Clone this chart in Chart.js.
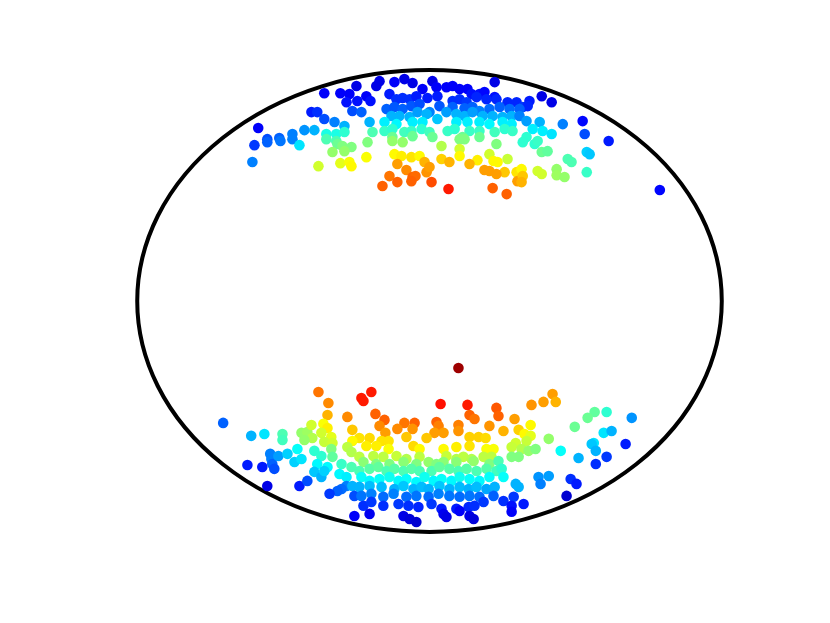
<!DOCTYPE html>
<html>
<head>
<meta charset="utf-8">
<script src="https://cdn.jsdelivr.net/npm/chart.js@4.4.1/dist/chart.umd.min.js"></script>
<style>
  html, body { margin: 0; padding: 0; background: #fff; }
  canvas { display: block; }
</style>
</head>
<body>
<canvas id="chart" width="830" height="623"></canvas>
<script>
// unit circle outline, axis limits like MATLAB's
const ringRadius = 1;
const axisLimit = 1.1;

// upper cluster
const northX = [
  -0.360,-0.305,-0.274,-0.250,-0.284,-0.247,-0.216,-0.202,-0.182,-0.171,
  -0.120,-0.086,-0.058,-0.024,0.010,0.024,0.058,0.079,0.103,0.130,
  0.144,0.171,0.188,0.223,0.223,-0.137,-0.113,-0.092,-0.068,-0.045,
  -0.007,0.027,0.079,0.103,0.127,0.161,0.195,0.229,0.267,0.298,
  0.342,0.384,0.418,0.319,0.336,-0.404,-0.384,-0.360,-0.325,-0.264,
  -0.233,-0.205,-0.586,-0.291,-0.428,-0.394,-0.469,-0.514,-0.555,-0.353,
  -0.319,-0.291,-0.195,-0.147,-0.120,-0.092,-0.062,-0.034,0.000,0.034,
  0.079,0.120,0.147,0.171,0.205,0.240,0.274,0.308,-0.130,-0.103,
  -0.068,-0.041,-0.010,0.027,0.058,0.092,0.120,0.147,0.182,0.216,
  0.250,0.281,-0.154,-0.113,-0.058,-0.024,0.092,0.130,0.171,0.205,
  0.250,0.281,-0.154,-0.127,-0.086,-0.062,-0.027,0.000,0.062,0.086,
  0.137,0.171,0.223,0.257,0.284,-0.127,-0.058,0.010,0.113,0.171,
  0.308,0.332,0.377,0.353,0.387,0.418,0.332,0.456,0.524,0.531,
  0.613,-0.599,-0.555,-0.510,-0.469,-0.445,-0.606,-0.353,-0.319,-0.315,
  -0.298,-0.267,-0.291,-0.332,-0.380,-0.305,-0.274,-0.267,-0.216,-0.212,
  -0.127,-0.092,0.041,0.103,0.120,0.229,0.103,-0.120,-0.096,-0.062,
  -0.034,0.103,0.041,0.068,-0.017,0.205,0.233,0.219,0.267,0.164,
  0.137,-0.110,-0.079,-0.010,0.000,0.188,0.205,0.257,0.229,0.298,
  -0.137,-0.058,-0.048,-0.062,-0.110,0.007,-0.161,0.065,0.216,0.264,
  0.301,0.319,0.360,0.370,0.384,0.404,0.473,0.486,0.538,0.548,
  0.538,0.315,0.319,0.315,0.370,0.384,0.435,0.435,0.462,0.788
];
const northY = [
  0.900,0.900,0.896,0.931,0.861,0.866,0.887,0.866,0.931,0.952,
  0.948,0.961,0.944,0.918,0.952,0.926,0.926,0.931,0.918,0.918,
  0.896,0.896,0.905,0.948,0.883,0.896,0.874,0.879,0.874,0.887,
  0.879,0.887,0.866,0.874,0.861,0.883,0.874,0.874,0.861,0.861,
  0.866,0.887,0.861,0.840,0.844,0.818,0.818,0.788,0.775,0.823,
  0.818,0.775,0.749,0.758,0.740,0.740,0.723,0.706,0.701,0.723,
  0.723,0.732,0.732,0.831,0.840,0.831,0.844,0.853,0.818,0.844,
  0.840,0.835,0.840,0.823,0.831,0.840,0.831,0.831,0.801,0.801,
  0.797,0.818,0.810,0.788,0.818,0.810,0.801,0.818,0.801,0.801,
  0.797,0.801,0.775,0.766,0.775,0.775,0.775,0.775,0.775,0.766,
  0.775,0.766,0.736,0.745,0.732,0.736,0.745,0.732,0.736,0.745,
  0.736,0.736,0.732,0.745,0.736,0.710,0.714,0.710,0.710,0.710,
  0.801,0.779,0.775,0.745,0.736,0.723,0.710,0.766,0.779,0.723,
  0.693,0.675,0.688,0.693,0.701,0.675,0.602,0.701,0.693,0.680,
  0.671,0.667,0.649,0.645,0.584,0.597,0.602,0.584,0.623,0.688,
  0.693,0.688,0.671,0.701,0.701,0.680,0.658,0.636,0.628,0.623,
  0.628,0.628,0.615,0.602,0.602,0.636,0.602,0.606,0.615,0.610,
  0.593,0.593,0.567,0.558,0.580,0.567,0.563,0.558,0.550,0.558,
  0.541,0.537,0.541,0.519,0.515,0.515,0.498,0.485,0.489,0.463,
  0.519,0.688,0.680,0.693,0.645,0.649,0.615,0.602,0.645,0.636,
  0.558,0.571,0.541,0.515,0.563,0.550,0.571,0.545,0.537,0.481
];
const northValue = [
  .12,.12,.12,.10,.14,.14,.12,.14,.10,.10,
  .12,.10,.10,.12,.10,.12,.12,.12,.12,.12,
  .14,.14,.13,.10,.14,.15,.17,.17,.17,.15,
  .15,.15,.17,.17,.18,.16,.16,.16,.16,.16,
  .15,.10,.10,.18,.16,.15,.17,.20,.25,.20,
  .22,.30,.12,.30,.27,.30,.25,.22,.20,.40,
  .40,.42,.45,.22,.21,.22,.21,.20,.25,.21,
  .22,.22,.22,.25,.23,.22,.23,.22,.30,.30,
  .30,.28,.30,.32,.28,.30,.30,.28,.30,.30,
  .30,.30,.36,.37,.36,.36,.36,.36,.36,.37,
  .36,.36,.43,.42,.44,.43,.42,.44,.43,.42,
  .43,.43,.44,.42,.43,.48,.48,.48,.48,.48,
  .25,.28,.30,.36,.36,.35,.42,.25,.13,.20,
  .15,.18,.22,.24,.25,.35,.25,.45,.45,.48,
  .50,.50,.52,.52,.58,.60,.62,.63,.62,.50,
  .52,.52,.55,.50,.50,.50,.58,.63,.64,.65,
  .63,.63,.67,.70,.70,.58,.63,.63,.57,.64,
  .70,.72,.74,.73,.72,.72,.72,.68,.72,.65,
  .76,.78,.77,.78,.78,.80,.78,.85,.78,.78,
  .72,.42,.42,.43,.48,.47,.45,.45,.33,.32,
  .43,.63,.68,.70,.58,.58,.52,.53,.52,.13
];

// lower cluster
const southX = [
  0.099,-0.199,-0.233,-0.226,0.038,0.130,-0.185,-0.154,-0.086,-0.051,
  0.024,0.031,0.137,0.154,0.099,0.205,0.229,-0.171,-0.151,-0.110,
  -0.058,0.017,0.048,0.099,-0.240,-0.205,-0.079,-0.010,0.137,0.168,
  0.192,-0.164,-0.140,-0.380,-0.346,-0.349,-0.281,-0.706,-0.610,-0.565,
  -0.503,-0.503,-0.438,-0.418,-0.404,-0.363,-0.349,-0.370,-0.336,-0.401,
  -0.428,-0.264,-0.264,-0.360,-0.332,0.421,0.390,0.432,0.349,0.236,
  0.291,0.253,0.305,0.346,0.325,0.346,0.565,0.606,0.541,0.497,
  0.692,0.596,0.623,0.408,0.295,0.332,0.562,0.671,-0.623,-0.572,
  -0.545,-0.541,-0.538,-0.531,-0.517,-0.486,-0.452,-0.462,-0.438,-0.555,
  -0.445,-0.418,-0.394,-0.370,-0.384,-0.349,-0.394,-0.370,-0.360,-0.336,
  -0.332,-0.301,-0.308,-0.284,-0.284,-0.301,-0.315,-0.342,-0.264,-0.257,
  -0.257,-0.281,-0.267,-0.267,-0.216,-0.182,-0.140,-0.055,-0.034,0.048,
  0.092,0.137,0.195,0.219,-0.240,-0.192,-0.158,-0.113,-0.079,-0.034,
  -0.003,0.058,0.092,0.116,0.144,0.185,0.212,-0.226,-0.182,-0.137,
  -0.089,-0.045,0.024,0.048,0.092,0.151,0.205,-0.240,-0.205,-0.175,
  -0.147,-0.120,-0.089,-0.062,-0.034,0.007,0.034,0.068,0.099,0.127,
  0.161,0.195,0.229,-0.233,-0.205,-0.171,-0.137,-0.106,-0.079,-0.045,
  -0.017,0.014,0.041,0.075,0.103,0.137,0.171,0.205,-0.240,-0.205,
  -0.164,-0.120,-0.089,-0.055,-0.027,-0.003,0.034,0.068,0.103,0.134,
  0.161,0.195,0.223,-0.233,-0.199,-0.158,-0.123,-0.079,-0.045,-0.003,
  0.031,0.068,0.103,0.137,0.171,0.219,-0.226,-0.199,-0.158,-0.106,
  -0.072,-0.038,0.007,0.041,0.092,0.134,0.154,0.185,-0.205,-0.089,
  -0.068,-0.045,0.048,0.058,0.103,0.137,0.151,0.281,0.315,0.339,
  0.363,0.281,0.305,0.449,0.555,0.569,0.510,0.606,0.569,0.236,
  0.247,0.253,0.373,0.408,0.380,0.295,0.305,0.483,0.503,0.469,
  0.288,0.253,0.281,0.281,0.322
];
const southY = [
  -0.290,-0.394,-0.420,-0.433,-0.446,-0.450,-0.489,-0.515,-0.528,-0.528,
  -0.524,-0.541,-0.494,-0.511,-0.537,-0.541,-0.463,-0.541,-0.571,-0.554,
  -0.554,-0.571,-0.571,-0.563,-0.593,-0.593,-0.589,-0.593,-0.589,-0.589,
  -0.593,-0.606,-0.606,-0.394,-0.442,-0.494,-0.502,-0.528,-0.584,-0.576,
  -0.576,-0.602,-0.571,-0.567,-0.537,-0.532,-0.550,-0.571,-0.589,-0.593,
  -0.602,-0.558,-0.606,-0.610,-0.615,-0.403,-0.437,-0.437,-0.450,-0.498,
  -0.511,-0.563,-0.558,-0.537,-0.576,-0.584,-0.481,-0.481,-0.506,-0.545,
  -0.506,-0.571,-0.563,-0.597,-0.615,-0.606,-0.615,-0.619,-0.710,-0.719,
  -0.662,-0.684,-0.706,-0.727,-0.671,-0.662,-0.641,-0.697,-0.684,-0.801,
  -0.801,-0.779,-0.649,-0.671,-0.706,-0.719,-0.740,-0.762,-0.736,-0.641,
  -0.675,-0.706,-0.749,-0.762,-0.801,-0.814,-0.823,-0.835,-0.801,-0.844,
  -0.931,-0.632,-0.654,-0.719,-0.628,-0.628,-0.641,-0.628,-0.641,-0.641,
  -0.632,-0.628,-0.641,-0.641,-0.675,-0.671,-0.675,-0.671,-0.684,-0.675,
  -0.697,-0.671,-0.684,-0.675,-0.684,-0.675,-0.675,-0.697,-0.706,-0.706,
  -0.697,-0.706,-0.706,-0.697,-0.697,-0.693,-0.706,-0.736,-0.727,-0.719,
  -0.736,-0.727,-0.736,-0.727,-0.736,-0.736,-0.719,-0.727,-0.736,-0.727,
  -0.736,-0.727,-0.736,-0.762,-0.779,-0.771,-0.762,-0.779,-0.771,-0.784,
  -0.762,-0.779,-0.771,-0.779,-0.762,-0.771,-0.779,-0.762,-0.805,-0.801,
  -0.805,-0.814,-0.801,-0.814,-0.805,-0.814,-0.801,-0.814,-0.805,-0.814,
  -0.805,-0.814,-0.805,-0.844,-0.835,-0.848,-0.835,-0.848,-0.844,-0.848,
  -0.835,-0.844,-0.848,-0.844,-0.848,-0.844,-0.887,-0.870,-0.887,-0.879,
  -0.887,-0.892,-0.879,-0.900,-0.900,-0.892,-0.887,-0.870,-0.922,-0.931,
  -0.944,-0.957,-0.922,-0.935,-0.909,-0.931,-0.944,-0.632,-0.641,-0.649,
  -0.641,-0.675,-0.675,-0.649,-0.619,-0.649,-0.680,-0.675,-0.706,-0.693,
  -0.727,-0.762,-0.762,-0.758,-0.792,-0.792,-0.805,-0.771,-0.792,-0.844,
  -0.848,-0.866,-0.887,-0.913,-0.879
];
const southValue = [
  .97,.85,.85,.85,.86,.85,.78,.78,.76,.78,
  .78,.75,.78,.76,.75,.73,.79,.74,.72,.74,
  .73,.72,.72,.73,.65,.66,.68,.68,.67,.67,
  .66,.65,.65,.76,.74,.70,.74,.22,.30,.35,
  .45,.44,.52,.53,.58,.62,.64,.58,.60,.55,
  .52,.68,.63,.57,.58,.72,.72,.70,.73,.78,
  .72,.70,.67,.63,.63,.60,.47,.42,.48,.48,
  .27,.35,.30,.52,.58,.57,.35,.15,.15,.15,
  .25,.25,.22,.20,.28,.33,.38,.33,.35,.10,
  .15,.20,.42,.42,.37,.37,.32,.30,.33,.50,
  .47,.43,.37,.36,.25,.23,.22,.18,.30,.20,
  .12,.56,.55,.45,.64,.64,.62,.66,.63,.63,
  .64,.65,.62,.62,.56,.56,.56,.57,.55,.56,
  .52,.57,.55,.56,.55,.56,.56,.51,.50,.50,
  .51,.50,.50,.51,.51,.52,.50,.45,.46,.47,
  .45,.46,.45,.46,.45,.45,.47,.46,.45,.46,
  .45,.46,.44,.38,.37,.38,.39,.37,.38,.37,
  .39,.37,.38,.37,.39,.38,.37,.38,.30,.31,
  .31,.30,.32,.30,.31,.30,.32,.30,.31,.30,
  .31,.29,.30,.24,.25,.23,.25,.23,.24,.23,
  .25,.24,.23,.24,.23,.22,.17,.18,.17,.18,
  .17,.16,.18,.15,.15,.16,.17,.18,.11,.10,
  .09,.08,.11,.10,.12,.10,.09,.57,.55,.52,
  .50,.50,.50,.38,.32,.30,.30,.18,.17,.45,
  .42,.38,.27,.28,.25,.30,.30,.17,.15,.08,
  .18,.17,.14,.12,.15
];

// MATLAB jet colormap
function jet(v) {
  const c = t => Math.round(255 * Math.max(0, Math.min(1, t)));
  return `rgb(${c(1.5 - Math.abs(4 * v - 3))},${c(1.5 - Math.abs(4 * v - 2))},${c(1.5 - Math.abs(4 * v - 1))})`;
}

function toPoints(xs, ys) {
  return xs.map((x, i) => ({ x: x, y: ys[i] }));
}

const ringPlugin = {
  id: 'ring',
  beforeDatasetsDraw(chart) {
    const { ctx, scales } = chart;
    const cx = scales.x.getPixelForValue(0);
    const cy = scales.y.getPixelForValue(0);
    const rx = scales.x.getPixelForValue(ringRadius) - cx;
    const ry = cy - scales.y.getPixelForValue(ringRadius);
    ctx.save();
    ctx.beginPath();
    ctx.ellipse(cx, cy, rx, ry, 0, 0, Math.PI * 2);
    ctx.lineWidth = 4;
    ctx.strokeStyle = '#000';
    ctx.stroke();
    ctx.restore();
  }
};

const dotStyle = {
  pointRadius: 5.3,
  pointHoverRadius: 5.3,
  pointBorderWidth: 0,
};

new Chart(document.getElementById('chart'), {
  type: 'scatter',
  data: {
    datasets: [
      {
        label: 'north',
        data: toPoints(northX, northY),
        pointBackgroundColor: northValue.map(jet),
        pointBorderColor: northValue.map(jet),
        ...dotStyle,
      },
      {
        label: 'south',
        data: toPoints(southX, southY),
        pointBackgroundColor: southValue.map(jet),
        pointBorderColor: southValue.map(jet),
        ...dotStyle,
      },
    ],
  },
  options: {
    responsive: false,
    animation: false,
    devicePixelRatio: 1,
    layout: { padding: { left: 108, right: 79, top: 47, bottom: 68 } },
    plugins: { legend: { display: false }, tooltip: { enabled: false } },
    events: [],
    scales: {
      x: { type: 'linear', min: -axisLimit, max: axisLimit, display: false },
      y: { type: 'linear', min: -axisLimit, max: axisLimit, display: false },
    },
  },
  plugins: [ringPlugin],
});
</script>
</body>
</html>
